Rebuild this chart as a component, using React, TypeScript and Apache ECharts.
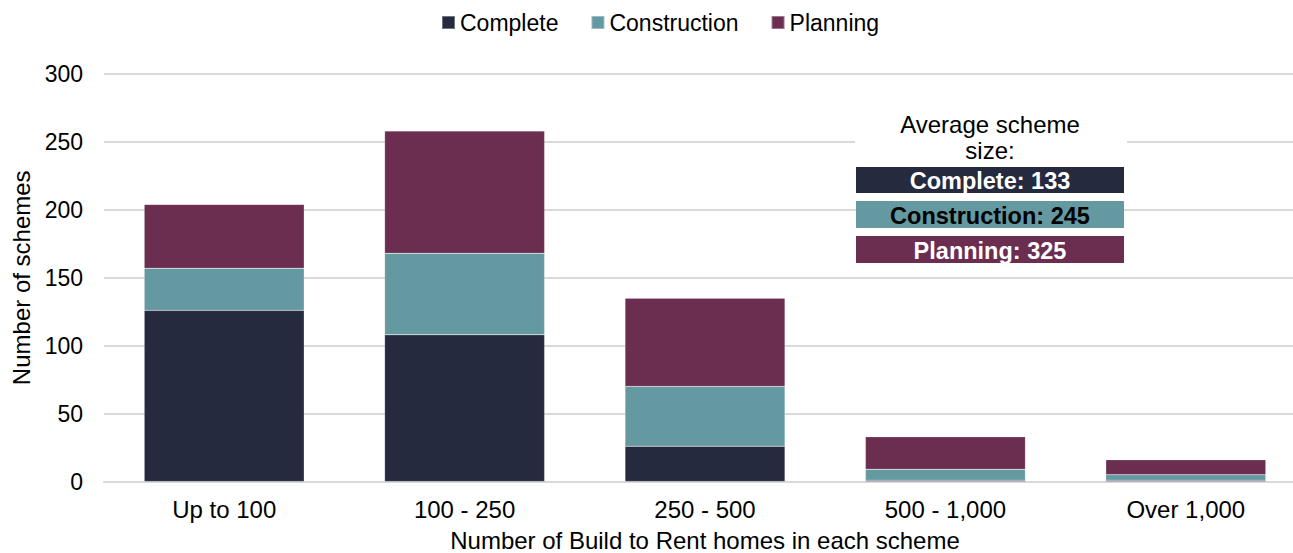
import React, { useEffect, useRef } from "react";
import * as echarts from "echarts";

const categories = ["Up to 100", "100 - 250", "250 - 500", "500 - 1,000", "Over 1,000"];
const completeValues = [126, 108, 26, 1, 1];
const constructionValues = [31, 60, 44, 8, 4];
const planningValues = [47, 90, 65, 24, 11];
const averageTitle = ["Average scheme", "size:"];
const averageLabels = ["Complete: 133", "Construction: 245", "Planning: 325"];

const FONT = "'Liberation Sans', Arial, sans-serif";
const COLORS = ["#262A3E", "#6599A1", "#6B2E50"];

export default function App() {
  const ref = useRef<HTMLDivElement>(null);
  useEffect(() => {
    if (!ref.current) return;
    const chart = echarts.init(ref.current, undefined, { renderer: "svg" });
    const boxTextColors = ["#ffffff", "#000000", "#ffffff"];
    const boxY = [167, 201, 236];
    const boxH = [26, 27, 27];
    chart.setOption({
      animation: false,
      backgroundColor: "#ffffff",
      textStyle: { fontFamily: FONT },
      legend: {
        top: 11,
        left: 441,
        padding: 0,
        itemWidth: 13,
        itemHeight: 13,
        itemGap: 32,
        icon: "rect",
        textStyle: { fontFamily: FONT, fontSize: 23, color: "#000" },
        data: ["Complete", "Construction", "Planning"],
      },
      grid: { left: 104, right: 0, top: 74, bottom: 71.5, outerBoundsMode: "none", containLabel: false },
      xAxis: {
        type: "category",
        data: categories,
        axisTick: { show: false },
        axisLine: { lineStyle: { color: "#d9d9d9", width: 2 } },
        axisLabel: { fontFamily: FONT, fontSize: 24, color: "#000", margin: 16 },
        name: "Number of Build to Rent homes in each scheme",
        nameLocation: "middle",
        nameGap: 47,
        nameTextStyle: { fontFamily: FONT, fontSize: 24, color: "#000", lineHeight: 24 },
      },
      yAxis: {
        type: "value",
        min: 0,
        max: 300,
        interval: 50,
        axisLine: { show: false },
        axisTick: { show: false },
        splitLine: { lineStyle: { color: "#d9d9d9", width: 2 } },
        axisLabel: { fontFamily: FONT, fontSize: 23, color: "#000", margin: 21 },
        name: "Number of schemes",
        nameLocation: "middle",
        nameGap: 70,
        nameTextStyle: { fontFamily: FONT, fontSize: 24, color: "#000" },
      },
      series: [
        { name: "Complete", data: completeValues },
        { name: "Construction", data: constructionValues },
        { name: "Planning", data: planningValues },
      ].map((s, i) => ({
        type: "bar",
        stack: "total",
        name: s.name,
        data: s.data,
        barWidth: 160,
        itemStyle: { color: COLORS[i], borderColor: "rgba(255,255,255,0.35)", borderWidth: 0.5 },
      })),
      graphic: [
        { type: "rect", z: 100, shape: { x: 855, y: 108, width: 272, height: 58 }, style: { fill: "#ffffff" } },
        ...averageTitle.map((t, i) => ({
          type: "text",
          x: 990,
          y: 124 + i * 26,
          z: 101,
          style: { text: t, fill: "#000", font: `24px ${FONT}`, textAlign: "center", textVerticalAlign: "middle" },
        })),
        ...averageLabels.flatMap((t, i) => [
          { type: "rect", z: 101, shape: { x: 856, y: boxY[i], width: 268, height: boxH[i] }, style: { fill: COLORS[i] } },
          {
            type: "text",
            z: 102,
            x: 990,
            y: boxY[i] + boxH[i] / 2 + 1,
            style: { text: t, fill: boxTextColors[i], font: `bold 23.5px ${FONT}`, textAlign: "center", textVerticalAlign: "middle" },
          },
        ]),
      ],
    });
    return () => chart.dispose();
  }, []);
  return (
    <div style={{ position: "absolute", left: 0, top: 0, width: 1293, height: 553, overflow: "hidden", background: "#fff" }}>
      <div ref={ref} style={{ width: 1306, height: 553 }} />
    </div>
  );
}
